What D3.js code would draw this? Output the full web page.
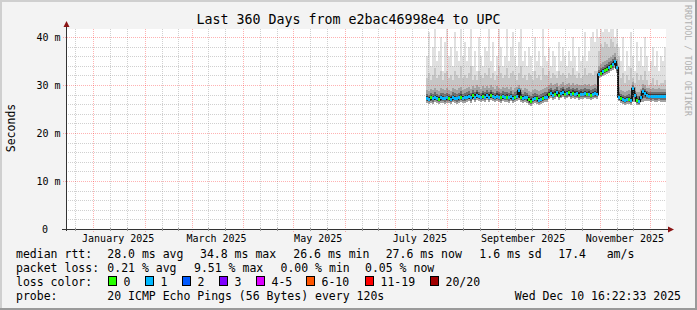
<!DOCTYPE html>
<html>
<head>
<meta charset="utf-8">
<script src="https://cdn.jsdelivr.net/npm/d3@7"></script>
<style>
  html, body { margin: 0; padding: 0; background: #f3f3f3; }
  svg { display: block; font-family: "DejaVu Sans Mono", monospace; }
</style>
</head>
<body>
<svg id="chart" width="697" height="310"></svg>
<script>
// time window of the graph and of the samples
const endTime = new Date(2025, 11, 10, 16, 22, 33);
const spanDays = 360;
const firstSample = new Date(2025, 6, 19, 16, 22, 33);
const stepSeconds = 103680; // one consolidated step (1.2 days)

// median rtt per step (ms)
const medianMs = [
  27.2, 27.0, 27.3, 27.1, 27.4, 27.2, 27.0, 27.3, 27.2, 27.1,
  27.3, 27.2, 27.0, 27.4, 27.2, 27.1, 27.3, 27.5, 27.2, 27.3,
  27.4, 27.6, 27.3, 27.8, 27.5, 27.9, 27.6, 27.4, 27.7, 27.5,
  27.8, 27.5, 27.9, 27.6, 27.4, 27.7, 27.5, 27.3, 27.6, 27.4,
  27.5, 27.3, 27.6, 27.2, 27.4, 27.6, 28.8, 27.5, 27.2, 27.4,
  27.3, 26.9, 26.6, 27.0, 27.2, 27.1, 26.8, 27.0, 27.2, 27.4,
  27.5, 28.0, 28.3, 27.9, 28.1, 28.4, 27.8, 28.2, 28.5, 28.1,
  28.2, 28.4, 28.0, 28.3, 28.1, 28.2, 27.9, 28.1, 28.0, 28.2,
  28.0, 28.1, 27.9, 28.0, 28.2, 28.0, 32.2, 32.4, 32.8, 33.0,
  33.3, 33.6, 33.9, 34.3, 34.8, 33.6, 27.5, 27.2, 26.9, 26.8,
  26.9, 27.0, 26.8, 29.2, 27.8, 26.7, 26.6, 27.4, 28.6, 28.3,
  27.8, 27.7, 27.6, 27.7, 27.6, 27.6, 27.7, 27.6, 27.6, 27.6
];

// loss class per step (index into lossLabels)
const lossClass = [
  1, 1, 0, 1, 1, 1, 0, 1, 1, 1,
  1, 0, 1, 1, 1, 1, 1, 0, 1, 1,
  1, 1, 1, 0, 1, 1, 1, 1, 0, 1,
  1, 1, 0, 1, 1, 1, 1, 0, 1, 1,
  0, 1, 1, 1, 0, 1, 1, 0, 1, 1,
  1, 0, 0, 1, 1, 0, 1, 1, 0, 1,
  1, 0, 1, 1, 0, 1, 0, 1, 1, 0,
  1, 0, 1, 0, 1, 1, 0, 1, 1, 1,
  0, 1, 0, 1, 1, 1, 1, 0, 1, 0,
  0, 1, 0, 1, 1, 1, 1, 0, 1, 1,
  1, 0, 1, 1, 1, 0, 1, 1, 1, 1,
  1, 1, 1, 1, 1, 1, 1, 1, 1, 1
];

// smoke: lowest ping, top of dark smoke, top of mid smoke, highest ping (ms)
const pingMin = [
  26.2, 26.0, 26.3, 26.1, 26.4, 26.2, 26.0, 26.3, 26.2, 26.1,
  26.3, 26.2, 26.0, 26.4, 26.2, 26.1, 26.3, 26.5, 26.2, 26.3,
  26.4, 26.6, 26.3, 26.8, 26.5, 26.9, 26.6, 26.4, 26.7, 26.5,
  26.8, 26.5, 26.9, 26.6, 26.4, 26.7, 26.5, 26.3, 26.6, 26.4,
  26.5, 26.3, 26.6, 26.2, 26.4, 26.6, 26.8, 26.5, 26.2, 26.4,
  26.3, 25.9, 25.6, 26.0, 26.2, 26.1, 25.8, 26.0, 26.2, 26.4,
  26.5, 27.0, 27.3, 26.9, 27.1, 27.4, 26.8, 27.2, 27.5, 27.1,
  27.2, 27.4, 27.0, 27.3, 27.1, 27.2, 26.9, 27.1, 27.0, 27.2,
  27.0, 27.1, 26.9, 27.0, 27.2, 27.0, 31.5, 31.6, 31.9, 32.1,
  32.3, 32.6, 32.9, 33.2, 33.6, 32.4, 26.6, 26.3, 26.0, 25.9,
  26.0, 26.1, 25.9, 26.5, 26.5, 25.9, 25.8, 26.4, 26.4, 26.6,
  26.7, 26.6, 26.5, 26.6, 26.5, 26.5, 26.6, 26.5, 26.5, 26.5
];
const pingLow = [
  29.0, 28.8, 29.2, 28.9, 29.4, 29.0, 28.7, 29.3, 29.1, 28.9,
  29.3, 29.0, 28.8, 29.4, 29.1, 28.9, 29.3, 29.6, 29.0, 29.2,
  29.3, 29.6, 29.1, 29.8, 29.4, 29.9, 29.5, 29.2, 29.7, 29.4,
  29.8, 29.4, 30.0, 29.5, 29.2, 29.7, 29.4, 29.1, 29.6, 29.3,
  29.5, 29.1, 29.6, 29.0, 29.3, 29.6, 30.0, 29.4, 29.0, 29.3,
  29.2, 28.8, 28.5, 28.9, 29.2, 29.0, 28.7, 28.9, 29.2, 29.4,
  29.5, 30.0, 30.4, 29.9, 30.2, 30.5, 29.8, 30.3, 30.6, 30.1,
  30.2, 30.5, 30.0, 30.4, 30.1, 30.3, 29.9, 30.1, 30.0, 30.2,
  30.0, 30.2, 29.8, 30.0, 30.3, 30.0, 34.0, 34.3, 34.7, 35.0,
  35.3, 35.6, 35.9, 36.3, 36.6, 35.5, 29.5, 29.0, 28.8, 28.6,
  28.8, 29.0, 28.7, 30.6, 29.6, 28.6, 28.5, 29.2, 30.2, 30.0,
  29.4, 29.3, 29.2, 29.3, 29.2, 29.2, 29.3, 29.2, 29.2, 29.2
];
const pingMid = [
  31.5, 32.5, 31.0, 32.0, 33.5, 31.5, 32.0, 33.0, 31.0, 32.5,
  33.0, 31.5, 32.0, 31.0, 33.0, 32.0, 31.5, 34.0, 31.5, 32.0,
  31.5, 32.5, 34.0, 31.0, 32.0, 31.0, 33.0, 32.0, 31.5, 32.5,
  32.0, 33.5, 31.5, 32.5, 31.0, 32.0, 34.0, 32.5, 31.5, 32.0,
  33.5, 31.5, 32.5, 33.0, 32.0, 31.0, 32.5, 34.0, 31.5, 32.0,
  31.0, 32.5, 32.0, 31.0, 33.0, 31.5, 32.0, 31.0, 33.5, 32.0,
  32.0, 33.0, 31.5, 32.5, 32.0, 31.5, 33.0, 32.0, 32.5, 32.0,
  31.5, 32.5, 32.0, 33.5, 32.0, 31.5, 32.5, 31.5, 32.0, 33.5,
  32.0, 32.5, 32.5, 32.0, 33.0, 33.0, 37.0, 38.5, 38.0, 39.0,
  38.5, 38.0, 39.5, 39.0, 38.0, 38.5, 36.0, 31.5, 32.5, 30.5,
  32.0, 31.0, 33.5, 31.5, 30.5, 32.5, 31.0, 32.0, 31.0, 33.0,
  31.0, 30.0, 30.5, 31.5, 30.0, 31.0, 30.0, 30.5, 30.5, 31.0
];
const pingMax = [
  36, 41, 34, 38, 42, 35, 37, 40, 33, 39,
  42, 36, 38, 34, 41, 37, 35, 42, 36, 39,
  35, 38, 42, 34, 37, 33, 40, 36, 34, 38,
  37, 42, 35, 39, 33, 36, 42, 38, 34, 36,
  42, 35, 38, 41, 36, 34, 39, 42, 35, 37,
  34, 38, 36, 33, 40, 35, 37, 34, 42, 36,
  35, 38, 34, 37, 36, 33, 39, 35, 38, 36,
  34, 37, 35, 40, 36, 33, 38, 35, 36, 41,
  35, 37, 40, 41, 39, 42, 40, 42, 41, 42,
  42, 41, 42, 42, 40, 42, 38, 35, 40, 33,
  37, 34, 41, 36, 33, 39, 35, 38, 34, 40,
  36, 33, 35, 38, 34, 37, 33, 36, 35, 38
];

const yMax = 41.67;
const yMinorStep = 2;
const yMajorStep = 10;

const lossLabels = ['0', '1', '2', '3', '4-5', '6-10', '11-19', '20/20'];
const lossColors = ['#26ff00', '#00b8ff', '#0059ff', '#7e00ff', '#dd00ff', '#ff5500', '#ff0000', '#a10000'];
const lossBoxX = [108.5, 145.5, 182.5, 219.5, 256.5, 306.5, 365.5, 430.5];

const titleText = 'Last 360 Days from e2bac46998e4 to UPC';
const rttStats = [
  ['median rtt:', 16], ['28.0 ms avg', 107.3], ['34.8 ms max', 200], ['26.6 ms min', 293.3],
  ['27.6 ms now', 385.7], ['1.6 ms sd', 479.3], ['17.4', 558.3], ['am/s', 606.7]
];
const lossStats = [
  ['packet loss:', 16], ['0.21 % avg', 107.3], ['9.51 % max', 194], ['0.00 % min', 280.5], ['0.05 % now', 365]
];
const probeText = '20 ICMP Echo Pings (56 Bytes) every 120s';
const stampText = 'Wed Dec 10 16:22:33 2025';

// ---------------------------------------------------------------------------
const W = 697, H = 310;
const plot = { left: 66, right: 666, top: 29, bottom: 229 };
const startTime = new Date(endTime.getTime() - spanDays * 864e5);

const x = d3.scaleTime().domain([startTime, endTime]).range([plot.left, plot.right]);
const y = d3.scaleLinear().domain([0, yMax]).range([plot.bottom, plot.top]);

const svg = d3.select('#chart');

// frame
svg.append('rect').attr('width', W).attr('height', H).attr('fill', '#f3f3f3');
svg.append('path').attr('d', `M0,0H${W}V2H2V${H}H0Z`).attr('fill', '#cfcfcf');
svg.append('path').attr('d', `M${W},${H}H0V${H - 2}H${W - 2}V0H${W}Z`).attr('fill', '#9a9a9a');
svg.append('rect')
  .attr('x', plot.left).attr('y', plot.top)
  .attr('width', plot.right - plot.left).attr('height', plot.bottom - plot.top)
  .attr('fill', '#fff');

svg.append('clipPath').attr('id', 'plotclip')
  .append('rect')
  .attr('x', plot.left).attr('y', plot.top)
  .attr('width', plot.right - plot.left).attr('height', plot.bottom - plot.top);

// samples
const samples = medianMs.map((m, i) => {
  const t0 = new Date(firstSample.getTime() + i * stepSeconds * 1000);
  const t1 = new Date(t0.getTime() + stepSeconds * 1000);
  return {
    t0, x0: x(t0), x1: x(t1), med: m, loss: lossClass[i],
    min: pingMin[i], low: pingLow[i], mid: pingMid[i], max: pingMax[i]
  };
});

const dataG = svg.append('g').attr('clip-path', 'url(#plotclip)');

function band(lowFn, highFn, color) {
  dataG.append('g')
    .selectAll('rect')
    .data(samples)
    .join('rect')
    .attr('x', (d) => d.x0)
    .attr('width', (d) => d.x1 - d.x0 + 0.05)
    .attr('y', (d) => y(highFn(d)))
    .attr('height', (d) => Math.max(0, y(lowFn(d)) - y(highFn(d))))
    .attr('fill', color)
    .attr('shape-rendering', 'crispEdges');
}

// smoke, from the outside in
band((d) => d.mid, (d) => d.max, '#e0e0e0');
band((d) => d.low, (d) => d.mid, '#c6c6c6');
band((d) => d.min, (d) => d.low, '#a2a2a2');
band((d) => d.med - (d.med - d.min) * 0.6, (d) => d.med + (d.low - d.med) * 0.55, '#6e6e6e');
band((d) => d.med - (d.med - d.min) * 0.3, (d) => d.med + (d.low - d.med) * 0.28, '#3a3a3a');

// dark step line under the median: its risers show between levels
const stepLine = d3.line()
  .x((d) => d.x0)
  .y((d) => y(d.med))
  .curve(d3.curveStepAfter);
dataG.append('path')
  .datum(samples)
  .attr('d', stepLine)
  .attr('fill', 'none')
  .attr('stroke', '#151515')
  .attr('stroke-width', 2);

// median line coloured by loss
dataG.append('g')
  .selectAll('rect')
  .data(samples)
  .join('rect')
  .attr('x', (d) => d.x0)
  .attr('width', (d) => d.x1 - d.x0 + 0.05)
  .attr('y', (d) => y(d.med) - 1.5)
  .attr('height', 3)
  .attr('fill', (d) => lossColors[d.loss])
  .attr('shape-rendering', 'crispEdges');

// grid
const gridG = svg.append('g').attr('shape-rendering', 'crispEdges');
const minorX = d3.timeDay.range(startTime, endTime).filter((d) => d.getDate() === 11 || d.getDate() === 21);
const majorX = d3.timeMonth.range(d3.timeMonth.ceil(startTime), endTime);
const minorY = d3.range(yMinorStep, yMax, yMinorStep).filter((v) => v % yMajorStep !== 0);
const majorY = d3.range(yMajorStep, yMax, yMajorStep);

const minorColor = 'rgba(150,150,150,0.45)';
const majorColor = 'rgba(255,0,0,0.3)';

gridG.selectAll('.mx').data(minorX).join('line')
  .attr('x1', (d) => Math.round(x(d)) + 0.5).attr('x2', (d) => Math.round(x(d)) + 0.5)
  .attr('y1', plot.top).attr('y2', plot.bottom)
  .attr('stroke', minorColor).attr('stroke-dasharray', '1,1');
gridG.selectAll('.my').data(minorY).join('line')
  .attr('x1', plot.left).attr('x2', plot.right)
  .attr('y1', (d) => Math.round(y(d)) + 0.5).attr('y2', (d) => Math.round(y(d)) + 0.5)
  .attr('stroke', minorColor).attr('stroke-dasharray', '1,1');
gridG.selectAll('.Mx').data(majorX).join('line')
  .attr('x1', (d) => Math.round(x(d)) + 0.5).attr('x2', (d) => Math.round(x(d)) + 0.5)
  .attr('y1', plot.top).attr('y2', plot.bottom + 3)
  .attr('stroke', majorColor).attr('stroke-dasharray', '1,1');
gridG.selectAll('.My').data(majorY).join('line')
  .attr('x1', plot.left - 3).attr('x2', plot.right)
  .attr('y1', (d) => Math.round(y(d)) + 0.5).attr('y2', (d) => Math.round(y(d)) + 0.5)
  .attr('stroke', majorColor).attr('stroke-dasharray', '1,1');

// axes
const axisColor = '#333';
const arrowColor = '#8b1515';
gridG.append('line')
  .attr('x1', plot.left - 4).attr('x2', plot.right + 2)
  .attr('y1', plot.bottom + 0.5).attr('y2', plot.bottom + 0.5)
  .attr('stroke', axisColor);
gridG.append('line')
  .attr('x1', plot.left + 0.5).attr('x2', plot.left + 0.5)
  .attr('y1', plot.bottom + 2).attr('y2', plot.top - 2)
  .attr('stroke', axisColor);
svg.append('path')
  .attr('d', `M${plot.left + 0.5},${plot.top - 8}L${plot.left - 2.5},${plot.top - 2}H${plot.left + 3.5}Z`)
  .attr('fill', arrowColor);
svg.append('path')
  .attr('d', `M${plot.right + 8},${plot.bottom + 0.5}L${plot.right + 2},${plot.bottom - 2.5}V${plot.bottom + 3.5}Z`)
  .attr('fill', arrowColor);

// small ticks on the x axis for minor grid
gridG.selectAll('.tx').data(minorX).join('line')
  .attr('x1', (d) => Math.round(x(d)) + 0.5).attr('x2', (d) => Math.round(x(d)) + 0.5)
  .attr('y1', plot.bottom - 1).attr('y2', plot.bottom + 2)
  .attr('stroke', '#999');

// y labels
const textG = svg.append('g').attr('fill', '#000');
textG.selectAll('.yl').data([0, ...majorY]).join('text')
  .attr('x', (d) => (d === 0 ? 48 : 60.5))
  .attr('y', (d) => y(d) + 3.6)
  .attr('text-anchor', 'end')
  .attr('font-size', 10)
  .text((d) => (d === 0 ? '0' : `${d} m`));

// x labels, centred in their month
const fmt = d3.timeFormat('%B %Y');
const labelMonths = d3.timeMonth.every(2).range(d3.timeMonth.ceil(startTime), endTime);
textG.selectAll('.xl').data(labelMonths).join('text')
  .attr('x', (d) => x(d3.timeDay.offset(d, 15)))
  .attr('y', 241.5)
  .attr('text-anchor', 'middle')
  .attr('font-size', 10)
  .text((d) => fmt(d));

// title, axis name, watermark
textG.append('text').attr('x', 348.5).attr('y', 23.5).attr('text-anchor', 'middle')
  .attr('font-size', 13.3).text(titleText);
textG.append('text').attr('transform', 'translate(14.5,128) rotate(-90)')
  .attr('text-anchor', 'middle').attr('font-size', 11.5).text('Seconds');
svg.append('text').attr('transform', 'translate(685,5) rotate(90)')
  .attr('font-size', 8.4).attr('fill', '#b0b0b0').text('RRDTOOL / TOBI OETIKER');

// legend
const legendFont = 11.5;
textG.selectAll('.l1').data(rttStats).join('text')
  .attr('x', (d) => d[1]).attr('y', 258).attr('font-size', legendFont).text((d) => d[0]);
textG.selectAll('.l2').data(lossStats).join('text')
  .attr('x', (d) => d[1]).attr('y', 272).attr('font-size', legendFont).text((d) => d[0]);
textG.append('text').attr('x', 16).attr('y', 286).attr('font-size', legendFont).text('loss color:');
const boxes = svg.append('g');
lossLabels.forEach((lab, i) => {
  boxes.append('rect')
    .attr('x', lossBoxX[i]).attr('y', 276.5).attr('width', 8).attr('height', 9)
    .attr('fill', lossColors[i]).attr('stroke', '#000').attr('stroke-width', 1)
    .attr('shape-rendering', 'crispEdges');
  textG.append('text').attr('x', lossBoxX[i] + 15).attr('y', 286)
    .attr('font-size', legendFont).text(lab);
});
textG.append('text').attr('x', 16).attr('y', 300).attr('font-size', legendFont).text('probe:');
textG.append('text').attr('x', 107.3).attr('y', 300).attr('font-size', legendFont).text(probeText);
textG.append('text').attr('x', 681).attr('y', 300).attr('text-anchor', 'end')
  .attr('font-size', legendFont).text(stampText);
</script>
</body>
</html>
